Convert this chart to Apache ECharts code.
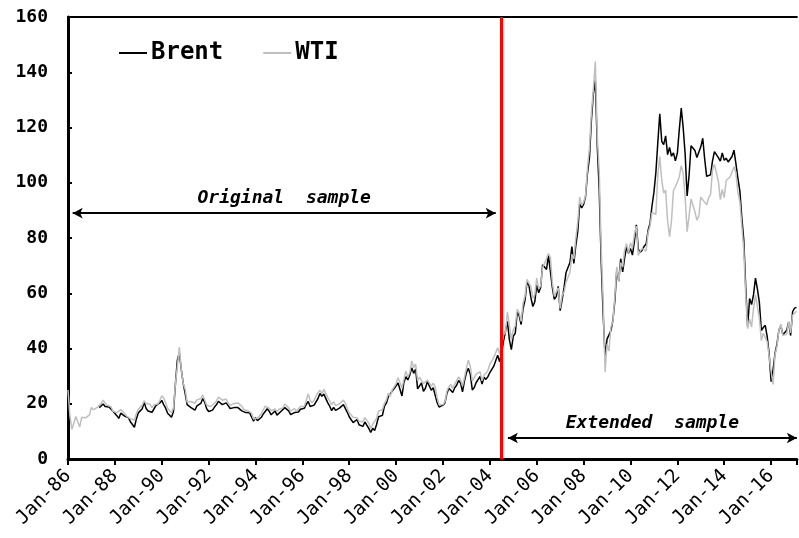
<!DOCTYPE html>
<html>
<head>
<meta charset="utf-8">
<script src="https://cdn.jsdelivr.net/npm/echarts@6/dist/echarts.min.js"></script>
<style>
  html, body { margin: 0; padding: 0; background: #fff; }
  #myChart { width: 799px; height: 538px; }
</style>
</head>
<body>
<div id="myChart"></div>
<script>
// monthly prices, first month = Jan 1986
var startYear = 1986;
var yTicks = [0, 20, 40, 60, 80, 100, 120, 140, 160];
var sampleBreak = 2004.5;   // Jul-04, red line
var originalSpan = [1986.2, 2004.25, 89];
var extendedSpan = [2004.77, 2017.1, 7.6];

var wti = [
  25.0, 15.5, 10.8, 11.5, 15.4, 13.4, 11.6, 15.1, 14.9, 14.9, 15.2, 16.0,
  18.7, 17.8, 18.3, 18.7, 19.4, 20.1, 21.3, 20.3, 19.5, 19.9, 18.9, 17.3,
  17.1, 16.8, 16.2, 17.9, 17.4, 16.5, 15.5, 15.5, 14.5, 13.8, 14.1, 16.4,
  18.0, 17.9, 19.5, 21.1, 20.1, 20.1, 19.8, 18.6, 19.6, 20.1, 19.9, 21.1,
  22.9, 22.1, 20.4, 18.4, 18.2, 16.7, 18.5, 27.3, 33.5, 40.5, 32.3, 27.3,
  25.2, 20.5, 19.9, 20.8, 21.2, 20.2, 21.4, 21.7, 21.9, 23.2, 22.5, 19.5,
  18.8, 19.0, 18.9, 20.2, 21.0, 22.4, 21.8, 21.3, 21.9, 21.7, 20.3, 19.4,
  19.0, 20.1, 20.3, 20.3, 20.0, 19.1, 17.9, 18.0, 17.5, 18.2, 16.6, 14.5,
  15.0, 14.8, 14.7, 16.4, 17.9, 19.1, 19.7, 18.4, 17.5, 17.7, 18.1, 17.2,
  18.0, 18.6, 18.5, 19.9, 19.7, 18.5, 17.3, 18.0, 18.2, 17.4, 18.0, 19.0,
  18.9, 19.1, 21.3, 23.5, 21.2, 20.4, 21.3, 21.9, 24.0, 24.9, 23.7, 25.2,
  25.1, 22.2, 21.0, 19.7, 20.8, 19.3, 19.7, 20.0, 19.8, 21.3, 20.2, 18.3,
  16.7, 16.1, 15.1, 15.4, 14.9, 13.7, 14.2, 13.5, 15.0, 14.5, 13.0, 11.0,
  12.5, 12.0, 14.7, 17.3, 17.7, 17.9, 20.1, 21.3, 23.8, 22.7, 25.0, 26.1,
  27.3, 29.4, 29.8, 25.7, 28.8, 31.8, 29.7, 31.3, 35.5, 33.1, 34.4, 28.4,
  29.6, 29.6, 27.3, 27.5, 28.6, 27.6, 26.4, 27.4, 26.2, 22.2, 19.6, 19.4,
  19.7, 20.7, 24.5, 26.2, 27.0, 25.5, 27.0, 28.4, 29.7, 28.8, 26.4, 29.5,
  33.0, 35.8, 33.5, 28.2, 28.1, 30.7, 30.8, 31.6, 28.3, 30.3, 31.1, 32.1,
  34.3, 34.7, 36.7, 36.8, 40.3, 38.0, 40.8, 44.9, 45.9, 53.3, 48.5, 43.2,
  46.8, 48.2, 54.2, 53.0, 49.8, 56.4, 59.0, 65.0, 65.6, 62.3, 58.3, 59.4,
  65.5, 61.6, 62.7, 69.4, 70.8, 71.0, 74.4, 73.0, 63.8, 58.9, 59.1, 62.0,
  54.5, 59.3, 60.4, 64.0, 63.5, 67.5, 74.1, 72.4, 79.9, 85.8, 94.8, 91.7,
  93.0, 95.4, 105.5, 112.6, 125.4, 133.9, 144.0, 116.7, 104.1, 76.6, 57.3, 31.5,
  41.7, 39.1, 47.9, 49.7, 59.0, 69.6, 64.2, 71.1, 69.4, 75.7, 78.0, 74.5,
  78.3, 76.4, 81.2, 84.3, 73.7, 75.3, 76.3, 76.6, 75.2, 81.9, 84.3, 89.2,
  89.2, 88.6, 102.9, 109.5, 100.9, 96.3, 97.3, 86.3, 80.5, 86.3, 97.2, 98.6,
  100.3, 102.2, 106.2, 103.3, 94.7, 82.3, 87.9, 94.1, 94.5, 89.5, 86.5, 87.9,
  94.8, 95.3, 92.9, 92.0, 94.5, 95.8, 104.7, 106.6, 106.3, 100.5, 93.9, 97.6,
  94.6, 100.8, 100.8, 102.1, 102.2, 105.8, 103.6, 96.5, 93.2, 84.4, 75.8, 59.3,
  47.2, 50.6, 47.8, 54.5, 59.3, 59.8, 50.9, 42.9, 45.5, 46.2, 42.4, 37.2,
  31.7, 27.0, 37.6, 40.8, 46.7, 48.8, 44.7, 44.7, 45.2, 49.8, 45.7, 52.0,
  52.5, 53.5
];

var brent = [
  null, null, null, null, null, null, null, null, null, null, null, null,
  null, null, null, null, 18.6, 18.9, 19.9, 19.0, 18.3, 18.8, 18.7, 17.3,
  16.8, 15.7, 14.7, 16.6, 16.3, 15.5, 14.9, 14.9, 13.4, 12.5, 11.5, 14.5,
  16.7, 16.4, 18.2, 20.5, 18.3, 17.4, 17.9, 16.9, 18.1, 19.3, 18.9, 20.3,
  21.2, 19.7, 18.4, 16.6, 16.3, 15.1, 17.2, 27.2, 35.9, 38.5, 32.4, 27.3,
  23.7, 19.7, 19.0, 18.6, 18.4, 17.7, 19.2, 19.4, 20.1, 21.9, 20.5, 18.2,
  17.2, 17.7, 17.7, 18.8, 19.6, 20.9, 20.2, 19.7, 20.4, 20.3, 19.3, 18.3,
  17.7, 18.6, 18.7, 18.6, 18.4, 17.4, 16.7, 16.8, 16.2, 16.7, 15.2, 13.7,
  15.0, 13.9, 13.6, 15.1, 16.3, 16.9, 18.2, 17.3, 16.0, 16.4, 17.4, 15.9,
  16.6, 17.2, 17.0, 18.6, 18.4, 17.4, 16.1, 16.3, 16.8, 16.2, 17.0, 18.0,
  17.9, 18.4, 19.8, 20.8, 19.0, 18.6, 19.5, 19.9, 21.9, 23.7, 22.7, 23.5,
  23.4, 20.3, 19.1, 17.5, 18.7, 17.6, 18.2, 18.4, 18.1, 19.7, 19.0, 16.9,
  15.3, 14.2, 13.2, 13.4, 14.3, 12.4, 12.2, 11.8, 13.4, 12.9, 11.1, 9.6,
  11.1, 10.3, 12.5, 15.3, 15.3, 15.8, 19.1, 20.2, 22.5, 22.0, 24.6, 25.5,
  25.7, 27.5, 27.4, 22.8, 27.8, 29.8, 28.6, 30.4, 33.0, 31.0, 32.6, 25.4,
  25.6, 27.5, 24.5, 25.6, 28.0, 27.7, 24.9, 25.8, 25.5, 20.4, 18.8, 18.6,
  19.5, 20.3, 23.7, 25.6, 25.3, 24.1, 25.8, 26.7, 28.4, 27.5, 24.3, 28.3,
  31.2, 32.8, 30.6, 25.0, 25.9, 27.7, 28.4, 29.9, 27.1, 29.6, 28.8, 29.8,
  31.3, 30.9, 33.6, 33.6, 37.6, 35.2, 38.2, 42.7, 43.2, 49.8, 43.1, 39.6,
  44.5, 45.5, 53.1, 51.9, 48.7, 54.4, 57.5, 64.0, 62.9, 58.5, 55.2, 56.9,
  63.0, 60.2, 62.1, 70.3, 69.8, 68.6, 73.7, 73.2, 62.0, 57.8, 58.8, 62.5,
  53.7, 57.6, 62.1, 67.5, 67.2, 71.1, 76.9, 70.8, 77.2, 82.3, 92.4, 90.9,
  92.2, 95.0, 103.6, 109.1, 122.8, 132.3, 137.0, 113.2, 97.2, 71.6, 52.5, 37.0,
  43.4, 43.3, 46.5, 50.2, 57.3, 68.6, 64.4, 72.5, 67.7, 72.8, 76.7, 74.5,
  76.2, 73.8, 78.8, 84.8, 76.0, 74.8, 75.6, 77.0, 77.8, 82.7, 85.3, 91.5,
  96.5, 103.7, 114.6, 125.0, 115.0, 113.8, 117.0, 110.2, 112.8, 109.6, 110.8, 107.9,
  110.7, 119.3, 127.0, 119.8, 110.3, 95.2, 102.6, 113.4, 112.9, 111.7, 109.1, 109.5,
  113.0, 116.1, 108.5, 102.3, 102.6, 102.9, 107.9, 111.3, 111.6, 109.1, 107.8, 110.8,
  108.1, 108.9, 107.5, 107.8, 109.5, 111.8, 106.8, 101.6, 97.1, 87.4, 79.4, 62.3,
  47.8, 58.1, 55.9, 59.5, 65.5, 61.5, 56.6, 46.5, 47.6, 48.4, 44.3, 38.0,
  28.0, 32.2, 38.2, 41.6, 46.7, 48.3, 45.0, 45.8, 46.6, 49.5, 44.7, 53.3,
  54.6, 54.9
];

function toPoints(values) {
  return values.map(function (v, i) { return [startYear + i / 12, v]; });
}

var monoFont = 'DejaVu Sans Mono';
var myChart = echarts.init(document.getElementById('myChart'));

myChart.setOption({
  animation: false,
  backgroundColor: '#fff',
  grid: { left: 68, right: 0, top: 17, bottom: 79 },
  legend: {
    left: 114,
    top: 36,
    itemWidth: 28,
    itemHeight: 2,
    itemGap: 40,
    textStyle: { fontFamily: monoFont, fontWeight: 'bold', fontSize: 24, color: '#000', padding: [0, 0, 0, -1] },
    data: [
      { name: 'Brent', icon: 'rect' },
      { name: 'WTI', icon: 'rect' }
    ]
  },
  xAxis: [
    {
      type: 'value',
      min: startYear,
      max: 2017.1,
      interval: 2,
      axisLine: { lineStyle: { color: '#000', width: 3 } },
      axisTick: { length: 6, lineStyle: { color: '#000', width: 2 } },
      splitLine: { show: false },
      axisLabel: {
        rotate: 45,
        margin: 14,
        fontFamily: monoFont,
        fontSize: 19,
        color: '#000',
        formatter: function (v) {
          if (Math.abs(v - Math.round(v)) > 1e-6) return '';
          return 'Jan-' + String(Math.round(v) % 100).padStart(2, '0');
        }
      }
    },
    {
      type: 'value',
      position: 'top',
      min: startYear,
      max: 2017.1,
      axisLine: { show: true, lineStyle: { color: '#000', width: 2 } },
      axisTick: { show: false },
      axisLabel: { show: false },
      splitLine: { show: false }
    }
  ],
  yAxis: {
    type: 'value',
    min: yTicks[0],
    max: yTicks[yTicks.length - 1],
    interval: 20,
    axisLine: { show: true, lineStyle: { color: '#000', width: 3 } },
    axisTick: { show: true, inside: true, length: 4, lineStyle: { color: '#000', width: 2 } },
    splitLine: { show: false },
    axisLabel: { margin: 20, fontFamily: monoFont, fontWeight: 'bold', fontSize: 18, color: '#000' }
  },
  series: [
    {
      name: 'Brent',
      type: 'line',
      symbol: 'none',
      connectNulls: false,
      lineStyle: { color: '#000', width: 1.5 },
      itemStyle: { color: '#000' },
      data: toPoints(brent)
    },
    {
      name: 'WTI',
      type: 'line',
      symbol: 'none',
      lineStyle: { color: '#bfbfbf', width: 1.5 },
      itemStyle: { color: '#bfbfbf' },
      data: toPoints(wti),
      markLine: {
        silent: true,
        animation: false,
        data: [
          [
            { coord: [originalSpan[0], originalSpan[2]], symbol: 'arrow' },
            { coord: [originalSpan[1], originalSpan[2]], symbol: 'arrow',
              label: { show: true, position: 'insideMiddleTop', formatter: 'Original  sample', distance: 6 } }
          ],
          [
            { coord: [extendedSpan[0], extendedSpan[2]], symbol: 'arrow' },
            { coord: [extendedSpan[1], extendedSpan[2]], symbol: 'arrow',
              label: { show: true, position: 'insideMiddleTop', formatter: 'Extended  sample', distance: 6 } }
          ],
          [
            { coord: [sampleBreak, yTicks[0]], symbol: 'none', lineStyle: { color: '#ff0000', width: 3 }, label: { show: false } },
            { coord: [sampleBreak, yTicks[yTicks.length - 1]], symbol: 'none' }
          ]
        ],
        symbolSize: [8, 10],
        lineStyle: { color: '#000', width: 2, type: 'solid' },
        label: {
          fontFamily: monoFont,
          fontStyle: 'italic',
          fontWeight: 'bold',
          fontSize: 18,
          color: '#000'
        }
      }
    }
  ]
});
</script>
</body>
</html>
